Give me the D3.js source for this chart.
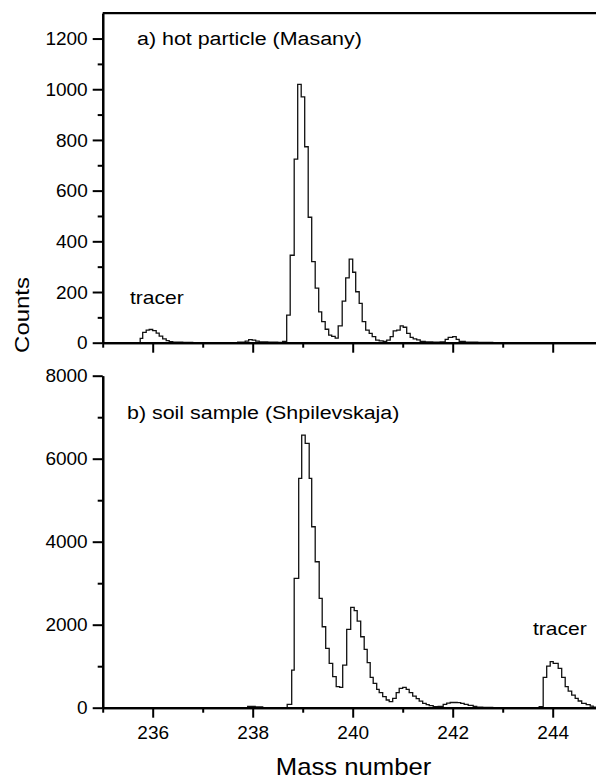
<!DOCTYPE html>
<html><head><meta charset="utf-8">
<script src="https://cdn.jsdelivr.net/npm/d3@7"></script>
<style>
html,body{margin:0;padding:0;background:#fff;}
svg{display:block;font-family:"Liberation Sans",Arial,sans-serif;}
</style></head>
<body>
<svg id="chart" width="596" height="781"></svg>
<script>
// ---- Data ----
// Panel a) hot particle (Masany): histogram bin left edges (mass number) and counts
const massA = [235.00,235.75,235.80,235.87,235.93,236.00,236.07,236.13,236.20,236.27,236.33,236.40,236.60,236.80,237.70,237.85,237.92,237.99,238.06,238.13,238.30,238.50,238.60,238.68,238.75,238.83,238.90,238.97,239.04,239.11,239.18,239.25,239.32,239.38,239.45,239.52,239.58,239.65,239.71,239.79,239.86,239.93,240.00,240.06,240.13,240.19,240.26,240.33,240.39,240.46,240.53,240.61,240.68,240.75,240.81,240.88,240.95,241.01,241.08,241.15,241.21,241.28,241.35,241.45,241.60,241.75,241.85,241.91,242.00,242.07,242.13,242.25,242.50,242.80,245.00];
const countsA = [0,17,41,50,52,48,38,26,15,8,4,2,1,0,2,6,12,10,6,3,2,1,5,109,345,724,1019,970,773,495,320,215,122,83,53,30,25,18,66,164,256,330,278,201,155,83,50,37,24,10,7,5,10,24,47,50,66,61,37,21,15,11,5,3,2,3,13,21,24,13,5,2,1,0,0];

// Panel b) soil sample (Shpilevskaja)
const massB = [235.00,237.90,238.05,238.20,238.69,238.78,238.83,238.92,238.98,239.05,239.13,239.18,239.25,239.33,239.39,239.46,239.53,239.60,239.67,239.74,239.80,239.88,239.96,240.03,240.09,240.16,240.23,240.29,240.35,240.41,240.48,240.53,240.60,240.67,240.73,240.80,240.87,240.93,241.00,241.07,241.13,241.20,241.27,241.33,241.40,241.47,241.53,241.61,241.71,241.81,241.88,241.95,242.02,242.09,242.16,242.23,242.31,242.41,242.48,242.60,242.80,243.73,243.81,243.88,243.95,244.01,244.11,244.18,244.25,244.31,244.38,244.45,244.51,244.58,244.67,244.75,244.81,244.90];
const countsB = [0,30,20,0,80,907,3115,5525,6570,6370,5525,4360,3517,2634,1951,1430,1068,747,506,490,1028,1887,2417,2337,2088,1710,1405,1084,731,586,442,361,265,185,145,225,361,466,490,442,361,281,217,160,104,72,48,24,32,80,110,125,125,120,104,80,56,32,16,8,0,24,731,1004,1108,1068,948,731,506,401,305,225,161,104,72,40,16,0];

const xDomain = [235, 245];
const xMajorTicks = [236, 238, 240, 242, 244];
const xMinorTicks = [235, 237, 239, 241, 243, 245];

const yDomainA = [0, 1300];
const yMajorA = [0, 200, 400, 600, 800, 1000, 1200];
const yMinorA = [100, 300, 500, 700, 900, 1100];

const yDomainB = [0, 8000];
const yMajorB = [0, 2000, 4000, 6000, 8000];
const yMinorB = [1000, 3000, 5000, 7000];

const titleA = "a) hot particle (Masany)";
const titleB = "b) soil sample (Shpilevskaja)";
const tracerLabel = "tracer";
const xTitle = "Mass number";
const yTitle = "Counts";

// ---- Drawing ----
const svg = d3.select("#chart");
const x = d3.scaleLinear().domain(xDomain).range([102.7, 602.7]);
const yA = d3.scaleLinear().domain(yDomainA).range([342.7, 13.2]);
const yB = d3.scaleLinear().domain(yDomainB).range([707.7, 375.7]);

function drawPanel(y, majorY, minorY, masses, counts, showXLabels) {
  const g = svg.append("g");
  // histogram
  const pts = masses.map((m, i) => [m, counts[i]]);
  const line = d3.line().x(d => x(d[0])).y(d => y(d[1])).curve(d3.curveStepAfter);
  g.append("path").attr("d", line(pts)).attr("fill", "none")
    .attr("stroke", "#111").attr("stroke-width", 1.3).attr("stroke-linejoin", "miter");

  // x axis
  const y0 = y(0);
  const xa = g.append("g").attr("transform", `translate(0,${y0})`)
    .call(d3.axisBottom(x).tickValues(xMajorTicks).tickSize(10).tickSizeOuter(0).tickPadding(8)
      .tickFormat(showXLabels ? d3.format("d") : () => ""));
  const xm = g.append("g").attr("transform", `translate(0,${y0})`)
    .call(d3.axisBottom(x).tickValues(xMinorTicks).tickSize(5).tickSizeOuter(0).tickFormat(() => ""));
  [xa, xm].forEach(a => {
    a.select(".domain").attr("stroke", "#000").attr("stroke-width", 2.2);
    a.selectAll(".tick line").attr("stroke", "#000").attr("stroke-width", 2);
    a.selectAll("text").attr("font-size", 19).attr("fill", "#000").attr("font-family", "Liberation Sans, Arial, sans-serif");
  });

  // y axis
  const ya = g.append("g").attr("transform", `translate(${x(xDomain[0])},0)`)
    .call(d3.axisLeft(y).tickValues(majorY).tickSize(10).tickSizeOuter(0).tickPadding(5).tickFormat(d3.format("d")));
  const ym = g.append("g").attr("transform", `translate(${x(xDomain[0])},0)`)
    .call(d3.axisLeft(y).tickValues(minorY).tickSize(5).tickSizeOuter(0).tickFormat(() => ""));
  [ya, ym].forEach(a => {
    a.select(".domain").attr("stroke", "#000").attr("stroke-width", 2.2);
    a.selectAll(".tick line").attr("stroke", "#000").attr("stroke-width", 2);
    a.selectAll("text").attr("font-size", 19).attr("fill", "#000").attr("font-family", "Liberation Sans, Arial, sans-serif");
  });
  return g;
}

drawPanel(yA, yMajorA, yMinorA, massA, countsA, false);
drawPanel(yB, yMajorB, yMinorB, massB, countsB, true);

// top frame line of panel a
svg.append("line").attr("x1", x(xDomain[0])).attr("x2", x(xDomain[1]))
  .attr("y1", yA(yDomainA[1])).attr("y2", yA(yDomainA[1]))
  .attr("stroke", "#000").attr("stroke-width", 2.2);

function label(txt, tx, ty, size, sx, rot, anchor) {
  svg.append("text")
    .attr("transform", `translate(${tx},${ty}) rotate(${rot || 0}) scale(${sx},1)`)
    .attr("text-anchor", anchor || "start")
    .attr("font-size", size).attr("fill", "#000").text(txt);
}
label(titleA, 137, 45, 18, 1.19);
label(titleB, 127, 419, 18, 1.19);
label(tracerLabel, 130, 304, 18, 1.17);
label(tracerLabel, 533, 635, 18, 1.17);
label(xTitle, 353.5, 775, 24, 1.07, 0, "middle");
label(yTitle, 28.5, 315, 21, 1.14, -90, "middle");
</script>
</body></html>
